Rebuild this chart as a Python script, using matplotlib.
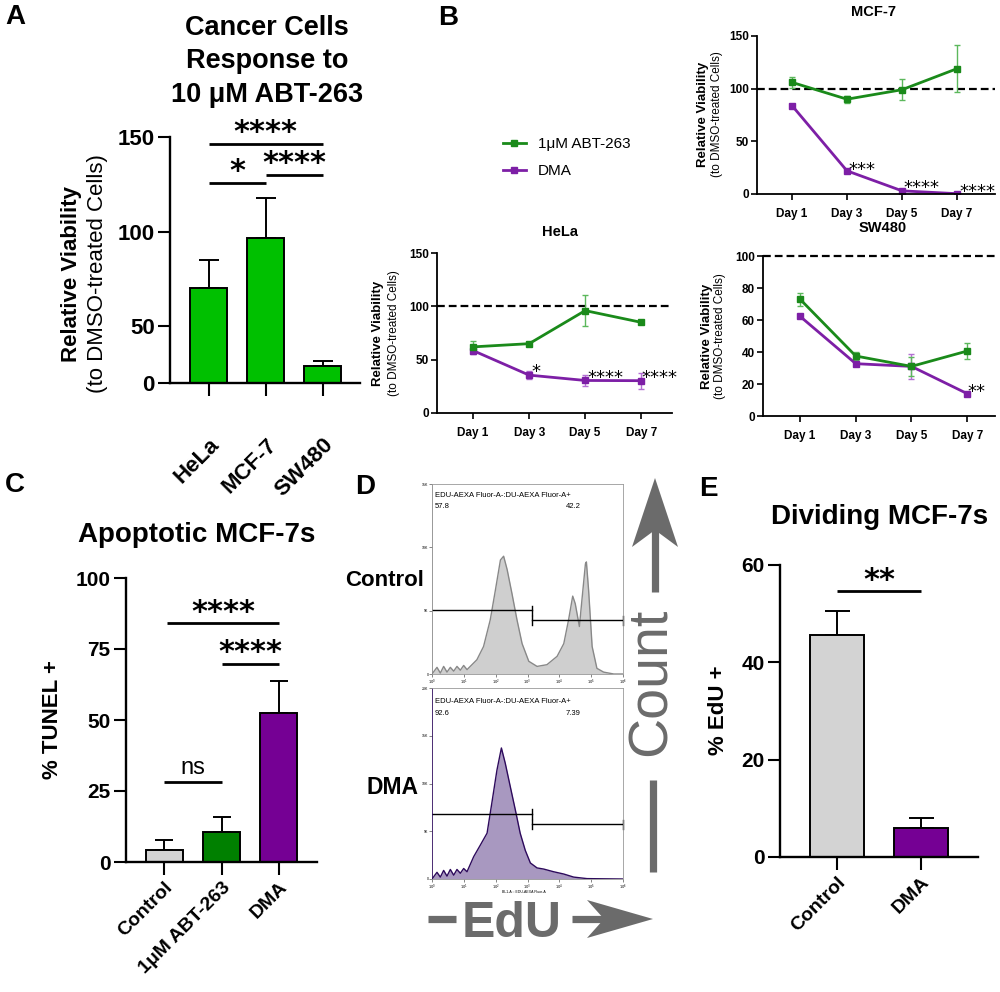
import numpy as np
import matplotlib
matplotlib.use("Agg")
import matplotlib.pyplot as plt
from matplotlib.lines import Line2D
from matplotlib.patches import Polygon

plt.rcParams['font.family'] = ['Liberation Sans', 'DejaVu Sans']

# ---------------- data ----------------
# A: viability after 10 uM ABT-263
a_cells = ["HeLa", "MCF-7", "SW480"]
a_vals = [70, 96.5, 15]
a_err = [15, 21.5, 4]

# B: time courses
days = [1, 3, 5, 7]
day_labels = ["Day 1", "Day 3", "Day 5", "Day 7"]
mcf_abt = [106, 90, 99, 119]
mcf_abt_err = [5, 3.5, 10, 22.5]
mcf_dma = [84, 22, 3, 0.3]
mcf_dma_err = [1, 1, 1, 0.5]
hela_abt = [62, 65, 96, 85]
hela_abt_err = [5.5, 1, 14.5, 2]
hela_dma = [58.5, 35.5, 30.5, 30.3]
hela_dma_err = [3, 3.5, 5.5, 7.5]
sw_abt = [73, 37.5, 31, 40.6]
sw_abt_err = [4, 2.8, 5.7, 5]
sw_dma = [62.3, 32.7, 31, 14]
sw_dma_err = [1, 1.5, 7.8, 0.5]

# C: TUNEL
c_groups = ["Control", "1μM ABT-263", "DMA"]
c_vals = [4.3, 10.7, 52.4]
c_err = [3.4, 5.1, 11.3]

# D: EdU flow histograms (x in decades, counts in % of axis height)
ctrl_x = [0, .157, .262, .366, .471, .576, .681, .785, .890, .995, 1.10, 1.41, 1.62,
          1.83, 1.99, 2.15, 2.25, 2.36, 2.51, 2.67, 2.83, 3.04, 3.30, 3.61, 3.93, 4.14,
          4.29, 4.42, 4.50, 4.63, 4.71, 4.82, 4.85, 4.92, 5.03, 5.18, 5.39, 5.71, 6.0]
ctrl_y = [0, 3.5, 0.5, 4, 1, 3.5, 1.5, 4, 2, 4.5, 2.3, 7.5, 14.5, 28.5, 44, 60, 62, 55,
          42.5, 28.5, 16, 6.7, 4, 4.9, 9.3, 16, 28.5, 41, 37, 25, 39, 58, 59, 44, 14.5,
          3, 1, 0, 0]
dma_x = [0, .157, .262, .366, .471, .576, .681, .785, .890, .995, 1.10, 1.31, 1.52,
         1.73, 1.88, 2.04, 2.18, 2.30, 2.46, 2.62, 2.77, 2.93, 3.09, 3.30, 3.51, 3.82,
         4.14, 4.45, 4.87, 6.0]
dma_y = [0, 3.5, 1, 4.5, 1.5, 5, 2, 5, 3, 5.5, 3.8, 11.7, 17.8, 24, 39.8, 57, 68.6,
         60.7, 48.3, 36, 24, 15, 8.4, 5.8, 5.2, 3.8, 2.6, 1, 0.2, 0]
gate_x = 3.14
ctrl_gates = [33.5, 28.2]
dma_gates = [34, 28.6]
ctrl_pct = ["57.8", "42.2"]
dma_pct = ["92.6", "7.39"]
ctrl_yticks = ["0", "5K", "10K", "15K"]
dma_yticks = ["0", "5K", "10K", "15K", "20K"]

# E: EdU
e_groups = ["Control", "DMA"]
e_vals = [45.6, 6]
e_err = [4.9, 2]

# ---------------- styling ----------------
GREEN_A = '#00c000'
GREEN_C = '#008000'
PURPLE = '#750094'
GREY = '#d3d3d3'
LG = '#1a8a1a'
LP = '#7d1fa6'
ARROW = '#6b6b6b'

W, H = 1000, 992
fig = plt.figure(figsize=(10, 9.92), dpi=100)


def add_ax(l, t, r, b):
    return fig.add_axes([l / W, 1 - b / H, (r - l) / W, (b - t) / H])


def ftext(x, y, s, **kw):
    kw.setdefault('ha', 'center')
    kw.setdefault('va', 'center')
    fig.text(x / W, 1 - y / H, s, **kw)


def star_bar(ax, x1, x2, y, label, dy=2, size=22, star=True):
    ax.plot([x1, x2], [y, y], color='k', lw=2, clip_on=False, solid_capstyle='butt')
    if star:
        ax.annotate(label, ((x1 + x2) / 2, y), xytext=(0, dy), textcoords='offset points',
                    ha='center', va='baseline', fontsize=size, fontweight='bold',
                    family='DejaVu Sans', annotation_clip=False)
    else:
        ax.annotate(label, ((x1 + x2) / 2, y), xytext=(0, dy), textcoords='offset points',
                    ha='center', va='baseline', fontsize=17, annotation_clip=False)


def bar_panel(ax, labels, vals, errs, colors, capsize, ytick_fs, xtick_fs, pad):
    x = np.arange(len(vals))
    ax.bar(x, vals, width=0.65, color=colors, edgecolor='k', linewidth=1.4, zorder=2)
    ax.errorbar(x, vals, yerr=[np.zeros(len(errs)), errs], fmt='none', ecolor='k',
                elinewidth=1.4, capsize=capsize, capthick=1.4, zorder=1)
    for s in ['top', 'right']:
        ax.spines[s].set_visible(False)
    for s in ['left', 'bottom']:
        ax.spines[s].set_linewidth(1.7)
    ax.tick_params(width=1.5, length=9)
    ax.tick_params(axis='y', labelsize=ytick_fs, pad=2)
    ax.tick_params(axis='x', pad=pad)
    ax.set_xticks(x)
    ax.set_xticklabels(labels, rotation=45, ha='right', rotation_mode='anchor',
                       fontsize=xtick_fs, fontweight='bold')
    for t in ax.get_yticklabels():
        t.set_fontweight('bold')
    ax.set_xlim(-0.67, len(vals) - 1 + 0.67)


# ---------------- A ----------------
def seg_fwd(y):
    y = np.asarray(y, float)
    return np.where(y < 50, y * 0.6, y - 20)


def seg_inv(u):
    u = np.asarray(u, float)
    return np.where(u < 30, u / 0.6, u + 20)


axA = add_ax(170, 137, 360, 383)
axA.set_yscale('function', functions=(seg_fwd, seg_inv))
bar_panel(axA, a_cells, a_vals, a_err, GREEN_A, 7, 16, 16, 28)
axA.set_ylim(0, 150)
axA.set_yticks([0, 50, 100, 150])
axA.set_yticklabels(["0", "50", "100", "150"], fontweight='bold', fontsize=16)
axA.set_xlim(-0.68, 2.65)
star_bar(axA, 0, 2, 146.3, "****")
star_bar(axA, 0, 1, 125.7, "*")
star_bar(axA, 1, 2, 129.9, "****")

for i, line in enumerate(["Cancer Cells", "Response to", "10 μM ABT-263"]):
    ftext(267, 28 + 33.5 * i, line, fontsize=19.5, fontweight='bold')
ftext(72, 274, "Relative Viability", rotation=90, fontsize=16, fontweight='bold')
ftext(98, 274, "(to DMSO-treated Cells)", rotation=90, fontsize=16)

# ---------------- B ----------------
def line_panel(ax, abt, abt_e, dma, dma_e, ylim, yticks, xlim):
    ax.errorbar(days, dma, yerr=dma_e, color=LP, marker='s', ms=4.5, lw=2,
                elinewidth=1, ecolor='#b36fd3', capsize=2.5, capthick=1)
    ax.errorbar(days, abt, yerr=abt_e, color=LG, marker='s', ms=4.5, lw=2,
                elinewidth=1, ecolor='#5cb85c', capsize=2.5, capthick=1)
    ax.axhline(100, color='k', lw=1.6, dashes=(3.5, 1.8), clip_on=False, zorder=0)
    ax.set_ylim(*ylim)
    ax.set_yticks(yticks)
    ax.set_xlim(*xlim)
    ax.set_xticks(days)
    ax.set_xticklabels(day_labels)
    for s in ['top', 'right']:
        ax.spines[s].set_visible(False)
    for s in ['left', 'bottom']:
        ax.spines[s].set_linewidth(1.3)
    ax.tick_params(width=1.2, length=4, labelsize=8.5, pad=2)
    ax.tick_params(axis='x', pad=6)
    for t in ax.get_xticklabels() + ax.get_yticklabels():
        t.set_fontweight('bold')


def small_star(ax, x, y, s):
    ax.annotate(s, (x, y), xytext=(0, -7.5), textcoords='offset points', ha='center',
                va='baseline', fontsize=13, family='DejaVu Sans', annotation_clip=False)


axM = add_ax(757, 36, 995, 194)
line_panel(axM, mcf_abt, mcf_abt_err, mcf_dma, mcf_dma_err, (0, 150), [0, 50, 100, 150],
           (-0.27, 8.38))
small_star(axM, 3.55, 28, "***")
small_star(axM, 5.7, 10.4, "****")
small_star(axM, 7.75, 6.6, "****")
ftext(873, 12, "MCF-7", fontsize=10.5, fontweight='bold')
ftext(703, 114, "Relative Viability", rotation=90, fontsize=9.5, fontweight='bold')
ftext(717, 114, "(to DMSO-treated Cells)", rotation=90, fontsize=8.5)

axH = add_ax(437, 253, 672, 413)
line_panel(axH, hela_abt, hela_abt_err, hela_dma, hela_dma_err, (0, 150), [0, 50, 100, 150],
           (-0.29, 8.1))
small_star(axH, 3.24, 43.4, "*")
small_star(axH, 5.71, 37.5, "****")
small_star(axH, 7.65, 37.5, "****")
ftext(560, 232, "HeLa", fontsize=10.5, fontweight='bold')
ftext(378, 333, "Relative Viability", rotation=90, fontsize=9.5, fontweight='bold')
ftext(394, 333, "(to DMSO-treated Cells)", rotation=90, fontsize=8.5)

axS = add_ax(763, 256, 995, 416)
line_panel(axS, sw_abt, sw_abt_err, sw_dma, sw_dma_err, (0, 100), [0, 20, 40, 60, 80, 100],
           (-0.33, 8.0))
small_star(axS, 7.33, 18.3, "**")
ftext(883, 228, "SW480", fontsize=10.5, fontweight='bold')
ftext(707, 336, "Relative Viability", rotation=90, fontsize=9.5, fontweight='bold')
ftext(720, 336, "(to DMSO-treated Cells)", rotation=90, fontsize=8.5)

handles = [Line2D([], [], color=LG, marker='s', ms=4, lw=2),
           Line2D([], [], color=LP, marker='s', ms=4, lw=2)]
fig.legend(handles, ["1μM ABT-263", "DMA"], loc='upper left',
           bbox_to_anchor=(503 / W, 1 - 137 / H), frameon=False, fontsize=11,
           handlelength=1.5, handletextpad=0.8, labelspacing=0.85, borderpad=0,
           borderaxespad=0)

# ---------------- C ----------------
axC = add_ax(126, 578, 317, 862)
bar_panel(axC, c_groups, c_vals, c_err, [GREY, GREEN_C, PURPLE], 6.5, 15, 14, 3)
axC.set_ylim(0, 100)
axC.set_yticks([0, 25, 50, 75, 100])
axC.set_yticklabels(["0", "25", "50", "75", "100"], fontweight='bold', fontsize=15)
star_bar(axC, 0.05, 2, 84, "****")
star_bar(axC, 1, 2, 69.7, "****")
star_bar(axC, 0, 1, 28.2, "ns", dy=6, star=False)
ftext(197, 535, "Apoptotic MCF-7s", fontsize=20, fontweight='bold')
ftext(52, 720, "% TUNEL +", rotation=90, fontsize=16, fontweight='bold')

# ---------------- D ----------------
def flow_panel(ax, xs, ys, fill, edge, gates, pct, ytl, text_y, pct_y):
    ax.fill_between(xs, ys, color=fill, lw=0)
    ax.plot(xs, ys, color=edge, lw=1)
    ax.set_xlim(0, 6)
    ax.set_ylim(0, 100)
    ax.plot([0, gate_x], [gates[0]] * 2, color='k', lw=1)
    ax.plot([gate_x, gate_x], [gates[0] - 2.5, gates[0] + 2.5], color='k', lw=1)
    ax.plot([gate_x, 6], [gates[1]] * 2, color='k', lw=1)
    ax.plot([gate_x, gate_x], [gates[1] - 2.5, gates[1] + 2.5], color='k', lw=1)
    ax.plot([6, 6], [gates[1] - 2.5, gates[1] + 2.5], color='k', lw=1, clip_on=False)
    ax.set_xticks(range(7))
    ax.set_xticklabels([r'$10^{%d}$' % i for i in range(7)])
    ax.set_yticks(np.linspace(0, 100, len(ytl)))
    ax.set_yticklabels(ytl)
    ax.tick_params(labelsize=2.6, length=2, width=0.5, pad=0.5, color='#555555')
    for s in ax.spines.values():
        s.set_linewidth(0.6)
        s.set_color('#999999')
    ax.spines['left'].set_color(edge)
    ax.text(0.016, text_y, "EDU-AEXA Fluor-A-:DU-AEXA Fluor-A+", transform=ax.transAxes,
            fontsize=5.5, va='center')
    ax.text(0.016, pct_y, pct[0], transform=ax.transAxes, fontsize=5.5, va='center')
    ax.text(0.70, pct_y, pct[1], transform=ax.transAxes, fontsize=5.5, va='center')


axD1 = add_ax(432, 484, 623, 674)
flow_panel(axD1, ctrl_x, ctrl_y, '#cfcfcf', '#888888', ctrl_gates, ctrl_pct, ctrl_yticks,
           0.942, 0.879)
axD2 = add_ax(432, 688, 623, 879)
flow_panel(axD2, dma_x, dma_y, '#a898c0', '#2d0a5c', dma_gates, dma_pct, dma_yticks,
           0.927, 0.869)
ftext(524, 892, "BL1-A :: EDU-AEXA Fluor-A", fontsize=2.5)
ftext(424, 580, "Control", fontsize=16, fontweight='bold', ha='right')
ftext(418, 788, "DMA", fontsize=16.5, fontweight='bold', ha='right')

ov = fig.add_axes([0, 0, 1, 1])
ov.set_xlim(0, W)
ov.set_ylim(H, 0)
ov.axis('off')
ov.patch.set_alpha(0)
ov.plot([655, 655], [592, 526], color=ARROW, lw=5.2, solid_capstyle='butt')
ov.add_patch(Polygon([(655, 478), (678, 547), (655, 530), (632, 547)], closed=True,
                     color=ARROW, lw=0))
ov.plot([653, 653], [780, 872], color=ARROW, lw=5.2, solid_capstyle='butt')
ov.plot([428, 456], [919, 919], color=ARROW, lw=5.2, solid_capstyle='butt')
ov.plot([572, 606], [919, 919], color=ARROW, lw=5.2, solid_capstyle='butt')
ov.add_patch(Polygon([(653, 919), (587, 900), (604, 919), (587, 938)], closed=True,
                     color=ARROW, lw=0))
ftext(652, 682, "Count", rotation=90, fontsize=40, color=ARROW)
ftext(512, 924, "EdU", fontsize=36, fontweight='bold', color=ARROW)

# ---------------- E ----------------
axE = add_ax(780, 565, 978, 857)
bar_panel(axE, e_groups, e_vals, e_err, [GREY, PURPLE], 9, 15, 14, 3)
axE.set_xlim(-0.68, 1.68)
axE.set_ylim(0, 60)
axE.set_yticks([0, 20, 40, 60])
axE.set_yticklabels(["0", "20", "40", "60"], fontweight='bold', fontsize=15)
star_bar(axE, 0, 1, 54.6, "**")
ftext(880, 517, "Dividing MCF-7s", fontsize=20, fontweight='bold')
ftext(718, 710, "% EdU +", rotation=90, fontsize=16, fontweight='bold')

# panel letters
for lab, x, y in [("A", 15, 17), ("B", 448, 18), ("C", 15, 485), ("D", 365, 487),
                  ("E", 708, 489)]:
    ftext(x, y, lab, fontsize=20, fontweight='bold')

fig.savefig("out.png", dpi=100)
